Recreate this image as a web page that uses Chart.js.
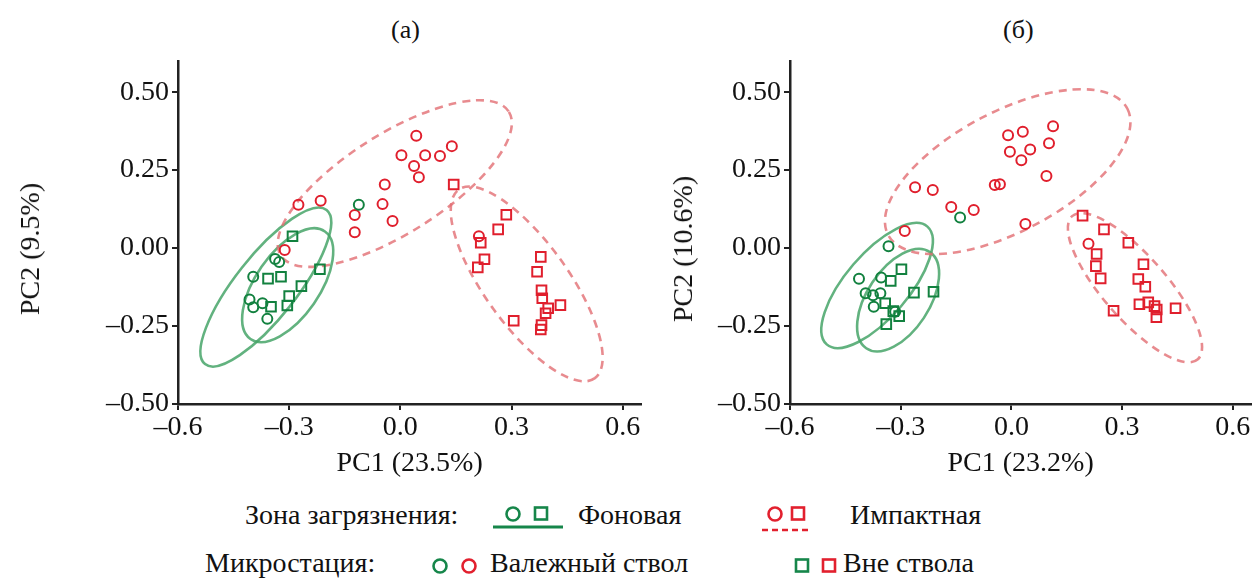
<!DOCTYPE html>
<html>
<head>
<meta charset="utf-8">
<script src="https://cdn.jsdelivr.net/npm/chart.js@4.4.1/dist/chart.umd.min.js"></script>
<style>
  body { margin: 0; width: 1260px; height: 581px; overflow: hidden; background: #fff;
         font-family: "Liberation Serif", "DejaVu Serif", serif; color: #111; }
  .box { position: absolute; }
  .t { position: absolute; font-size: 28px; line-height: 32px; white-space: nowrap; transform: translateY(-50%); }
  .yt { position: absolute; font-size: 28px; line-height: 32px; white-space: nowrap;
        transform: translate(-50%, -50%) rotate(-90deg); }
  .ic { position: absolute; transform: translate(-50%, -50%); }
</style>
</head>
<body>
<div class="t" style="left:391px;top:30px;font-size:26px">(а)</div>
<div class="t" style="left:1003px;top:30px;font-size:26px">(б)</div>

<div class="box" style="left:0;top:0"><canvas id="chartA" width="650" height="480"></canvas></div>
<div class="box" style="left:612px;top:0"><canvas id="chartB" width="648" height="480"></canvas></div>
<div class="yt" style="left:30px;top:249px">PC2 (9.5%)</div>
<div class="yt" style="left:683px;top:249px">PC2 (10.6%)</div>

<!-- legend -->
<div class="t" style="left:245px;top:515px">Зона загрязнения:</div>
<svg class="ic" style="left:533px;top:518px" width="80" height="30">
  <circle cx="20" cy="11" r="6.5" fill="none" stroke="#16864a" stroke-width="2.6"/>
  <rect x="42" y="4.5" width="12" height="12" fill="none" stroke="#16864a" stroke-width="2.6"/>
  <line x1="0" y1="24" x2="70" y2="24" stroke="#16864a" stroke-width="3"/>
</svg>
<div class="t" style="left:578px;top:515px">Фоновая</div>
<svg class="ic" style="left:787px;top:520px" width="56" height="30">
  <circle cx="16" cy="9" r="6.5" fill="none" stroke="#e2202e" stroke-width="2.6"/>
  <rect x="33" y="2.5" width="12" height="12" fill="none" stroke="#e2202e" stroke-width="2.6"/>
  <line x1="3" y1="25" x2="53" y2="25" stroke="#e2202e" stroke-width="2.4" stroke-dasharray="6,4"/>
</svg>
<div class="t" style="left:850px;top:515px">Импактная</div>

<div class="t" style="left:205px;top:563px">Микростация:</div>
<svg class="ic" style="left:455px;top:566px" width="50" height="20">
  <circle cx="10" cy="10" r="6.5" fill="none" stroke="#16864a" stroke-width="2.6"/>
  <circle cx="39" cy="10" r="6.5" fill="none" stroke="#e2202e" stroke-width="2.6"/>
</svg>
<div class="t" style="left:490px;top:563px">Валежный ствол</div>
<svg class="ic" style="left:818px;top:566px" width="50" height="20">
  <rect x="3" y="3.5" width="12" height="12" fill="none" stroke="#16864a" stroke-width="2.6"/>
  <rect x="30" y="3.5" width="12" height="12" fill="none" stroke="#e2202e" stroke-width="2.6"/>
</svg>
<div class="t" style="left:843px;top:563px">Вне ствола</div>

<script>
// ---- axis ticks ----
const xTickValues = [-0.6, -0.3, 0.0, 0.3, 0.6];
const xTickLabels = ['–0.6', '–0.3', '0.0', '0.3', '0.6'];
const yTickValues = [-0.5, -0.25, 0.0, 0.25, 0.5];
const yTickLabels = ['–0.50', '–0.25', '0.00', '0.25', '0.50'];

// ---- panel (a): PC1 / PC2 scores ----
const aFonTrunk = [[-0.338, -0.035], [-0.327, -0.045], [-0.397, -0.092], [-0.407, -0.165],
  [-0.397, -0.190], [-0.372, -0.177], [-0.359, -0.227], [-0.112, 0.139]];
const aFonOut = [[-0.291, 0.038], [-0.357, -0.098], [-0.322, -0.092], [-0.217, -0.068],
  [-0.267, -0.122], [-0.300, -0.154], [-0.305, -0.184], [-0.349, -0.188]];
const aImpTrunk = [[0.043, 0.360], [0.003, 0.298], [0.067, 0.298], [0.107, 0.295], [0.139, 0.327],
  [0.037, 0.263], [0.050, 0.227], [-0.042, 0.204], [-0.048, 0.141], [-0.021, 0.087],
  [-0.123, 0.106], [-0.123, 0.051], [-0.215, 0.152], [-0.275, 0.139], [-0.312, -0.006], [0.212, 0.038]];
const aImpOut = [[0.144, 0.204], [0.286, 0.107], [0.264, 0.060], [0.217, 0.017], [0.227, -0.036],
  [0.209, -0.062], [0.379, -0.028], [0.369, -0.076], [0.381, -0.135], [0.383, -0.161],
  [0.399, -0.193], [0.432, -0.183], [0.392, -0.209], [0.381, -0.247], [0.379, -0.261], [0.306, -0.233]];

// ellipses: centre x, centre y, half-axis 1 (dx, dy), half-axis 2 (dx, dy), in data units
const aEllFonTrunk = [-0.363, -0.125, 0.164, 0.247, 0.0646, -0.062];
const aEllFonOut = [-0.304, -0.119, 0.1005, 0.1724, 0.0706, -0.0594];
const aEllImpTrunk = [-0.015, 0.207, 0.308, 0.230, 0.0703, -0.136];
const aEllImpOut = [0.341, -0.115, 0.184, -0.302, -0.0904, -0.0797];

// ---- panel (б) ----
const bFonTrunk = [[-0.333, 0.006], [-0.413, -0.098], [-0.353, -0.094], [-0.395, -0.145],
  [-0.375, -0.151], [-0.355, -0.145], [-0.373, -0.188], [-0.315, -0.204], [-0.139, 0.098]];
const bFonOut = [[-0.298, -0.068], [-0.327, -0.105], [-0.264, -0.143], [-0.211, -0.140],
  [-0.342, -0.177], [-0.320, -0.202], [-0.304, -0.218], [-0.339, -0.244]];
const bImpTrunk = [[-0.009, 0.362], [0.031, 0.373], [0.113, 0.391], [0.102, 0.336], [-0.004, 0.309],
  [0.051, 0.316], [0.027, 0.282], [0.095, 0.231], [-0.045, 0.202], [-0.031, 0.205],
  [-0.261, 0.195], [-0.213, 0.186], [-0.163, 0.132], [-0.102, 0.122], [0.038, 0.077],
  [-0.289, 0.055], [0.209, 0.014]];
const bImpOut = [[0.193, 0.104], [0.251, 0.060], [0.231, -0.019], [0.229, -0.058], [0.242, -0.097],
  [0.317, 0.017], [0.358, -0.052], [0.344, -0.099], [0.363, -0.124], [0.347, -0.180],
  [0.371, -0.174], [0.388, -0.186], [0.394, -0.197], [0.393, -0.222], [0.445, -0.193], [0.277, -0.201]];

const bEllFonTrunk = [-0.364, -0.120, 0.1365, 0.1888, 0.0645, -0.0673];
const bEllFonOut = [-0.307, -0.167, 0.0864, 0.1542, 0.0699, -0.0567];
const bEllImpTrunk = [-0.010, 0.245, 0.3245, 0.2019, 0.0736, -0.1708];
const bEllImpOut = [0.335, -0.127, 0.1704, -0.2295, -0.0637, -0.0683];

const GREEN = '#12813f';
const RED = '#e01f2d';
const GREEN_ELL = 'rgba(70,165,105,0.85)';
const RED_ELL = 'rgba(226,110,115,0.8)';
const FONT = { family: 'Liberation Serif', size: 28 };

// draws the confidence ellipses through the chart scales
const ellipsePlugin = {
  id: 'ellipses',
  beforeDatasetsDraw(chart, args, opts) {
    const { ctx, scales: { x, y } } = chart;
    (opts.items || []).forEach(e => {
      const [cx, cy, ux, uy, vx, vy] = e.p;
      const px = x.getPixelForValue(cx), py = y.getPixelForValue(cy);
      const Ux = x.getPixelForValue(cx + ux) - px, Uy = y.getPixelForValue(cy + uy) - py;
      const Vx = x.getPixelForValue(cx + vx) - px, Vy = y.getPixelForValue(cy + vy) - py;
      ctx.save();
      ctx.beginPath();
      ctx.transform(Ux, Uy, Vx, Vy, px, py);
      ctx.arc(0, 0, 1, 0, Math.PI * 2);
      ctx.restore();
      ctx.save();
      ctx.strokeStyle = e.color;
      ctx.lineWidth = 2.6;
      ctx.setLineDash(e.dash || []);
      ctx.stroke();
      ctx.restore();
    });
  }
};

function pts(arr) { return arr.map(p => ({ x: p[0], y: p[1] })); }

function ds(arr, color, style) {
  return {
    data: pts(arr),
    pointStyle: style,
    pointRadius: style === 'rect' ? 6.8 : 5,
    pointBorderWidth: 2,
    pointBackgroundColor: 'rgba(0,0,0,0)',
    pointBorderColor: color,
    showLine: false
  };
}

function makeChart(id, sets, ells, xTitle) {
  return new Chart(document.getElementById(id), {
    type: 'scatter',
    data: {
      datasets: [
        ds(sets[0], GREEN, 'circle'),
        ds(sets[1], GREEN, 'rect'),
        ds(sets[2], RED, 'circle'),
        ds(sets[3], RED, 'rect')
      ]
    },
    options: {
      responsive: false,
      animation: false,
      layout: { padding: { top: 61, right: id === 'chartA' ? 3 : 1, left: 0, bottom: 0 } },
      plugins: {
        legend: { display: false },
        tooltip: { enabled: false },
        ellipses: {
          items: [
            { p: ells[0], color: GREEN_ELL },
            { p: ells[1], color: GREEN_ELL },
            { p: ells[2], color: RED_ELL, dash: [8, 6] },
            { p: ells[3], color: RED_ELL, dash: [8, 6] }
          ]
        }
      },
      scales: {
        x: {
          type: 'linear', min: -0.6, max: 0.65,
          afterBuildTicks: s => { s.ticks = xTickValues.map(v => ({ value: v })); },
          afterFit: s => { s.height = 76; },
          ticks: { font: FONT, color: '#111', padding: 1, maxRotation: 0,
                   callback: (v, i) => xTickLabels[i] },
          grid: { drawOnChartArea: false, drawTicks: true, tickLength: 6, color: '#222', lineWidth: 2 },
          border: { display: true, color: '#222', width: 2.5 },
          title: { display: true, text: xTitle, font: FONT, color: '#111', padding: { top: 0, bottom: 0 } }
        },
        y: {
          type: 'linear', min: -0.5, max: 0.6,
          afterBuildTicks: s => { s.ticks = yTickValues.map(v => ({ value: v })); },
          afterFit: s => { s.width = 178; },
          ticks: { font: FONT, color: '#111', padding: 3,
                   callback: (v, i) => yTickLabels[i] },
          grid: { drawOnChartArea: false, drawTicks: true, tickLength: 6, color: '#222', lineWidth: 2 },
          border: { display: true, color: '#222', width: 2.5 },
          title: { display: false }
        }
      }
    },
    plugins: [ellipsePlugin]
  });
}

makeChart('chartA', [aFonTrunk, aFonOut, aImpTrunk, aImpOut],
  [aEllFonTrunk, aEllFonOut, aEllImpTrunk, aEllImpOut], 'PC1 (23.5%)');
makeChart('chartB', [bFonTrunk, bFonOut, bImpTrunk, bImpOut],
  [bEllFonTrunk, bEllFonOut, bEllImpTrunk, bEllImpOut], 'PC1 (23.2%)');
</script>
</body>
</html>
